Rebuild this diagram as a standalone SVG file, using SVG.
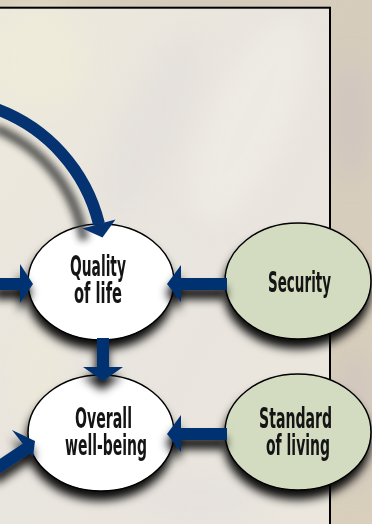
<svg xmlns="http://www.w3.org/2000/svg" width="372" height="524" viewBox="0 0 372 524">
  <defs>
    <linearGradient id="bgGrad" x1="0" y1="0" x2="1" y2="1">
      <stop offset="0" stop-color="#dad1bd"/>
      <stop offset="0.5" stop-color="#d6ccbc"/>
      <stop offset="1" stop-color="#d9cfbc"/>
    </linearGradient>
    <linearGradient id="panelGrad" x1="0" y1="0" x2="1" y2="1">
      <stop offset="0" stop-color="#ede9dc"/>
      <stop offset="0.45" stop-color="#e9e5df"/>
      <stop offset="1" stop-color="#ebe7dd"/>
    </linearGradient>
    <filter id="soft" x="-50%" y="-50%" width="200%" height="200%">
      <feGaussianBlur stdDeviation="12"/>
    </filter>
    <filter id="shadow" x="-30%" y="-30%" width="160%" height="170%">
      <feDropShadow dx="-1" dy="9" stdDeviation="5" flood-color="#000" flood-opacity="0.95"/>
    </filter>
    <filter id="arcBlur" x="-30%" y="-30%" width="160%" height="160%">
      <feGaussianBlur stdDeviation="3.5"/>
    </filter>
    <style>
      .node-white { fill: #ffffff; stroke: #000; stroke-width: 1.5; }
      .node-green { fill: #d3dcc0; stroke: #000; stroke-width: 1.5; }
      .label { font-family: "DejaVu Sans Condensed", "DejaVu Sans", sans-serif; font-stretch: condensed; font-weight: bold; font-size: 29px; fill: #141414; }
      .band { stroke: #053372; fill: none; }
      .head { fill: #053372; }
    </style>
  </defs>

  <!-- background texture -->
  <rect x="0" y="0" width="372" height="524" fill="url(#bgGrad)"/>
  <g filter="url(#soft)" opacity="0.6">
    <ellipse cx="352" cy="120" rx="20" ry="60" fill="#cdc2c2"/>
    <ellipse cx="355" cy="420" rx="18" ry="70" fill="#cbc1bf"/>
    <ellipse cx="200" cy="0" rx="120" ry="8" fill="#cbc2b6"/>
  </g>

  <!-- panel -->
  <rect x="-5" y="7.7" width="335" height="600" fill="url(#panelGrad)"/>
  <g filter="url(#soft)" opacity="0.7">
    <ellipse cx="40" cy="60" rx="50" ry="50" fill="#efecd9"/>
    <ellipse cx="250" cy="120" rx="40" ry="110" fill="#f0ede6" transform="rotate(25 250 120)"/>
    <ellipse cx="150" cy="130" rx="30" ry="100" fill="#e3dfdc" transform="rotate(25 150 130)"/>
    <ellipse cx="40" cy="380" rx="30" ry="60" fill="#ece8d8"/>
    <ellipse cx="200" cy="500" rx="60" ry="25" fill="#e4e0de"/>
  </g>
  <rect x="-5" y="7.7" width="335" height="600" fill="none" stroke="#000" stroke-width="2"/>

  <!-- nodes -->
  <g id="node-quality">
    <ellipse cx="101" cy="282" rx="73" ry="58" class="node-white" filter="url(#shadow)"/>
    <text class="label" transform="translate(70 276) scale(0.6 1)" x="0" y="0" textLength="93.3" lengthAdjust="spacingAndGlyphs">Quality</text>
    <text class="label" transform="translate(74 303) scale(0.6 1)" x="0" y="0" textLength="80" lengthAdjust="spacingAndGlyphs">of life</text>
  </g>
  <g id="node-security">
    <ellipse cx="298" cy="281" rx="73" ry="58" class="node-green" filter="url(#shadow)"/>
    <text class="label" transform="translate(268 292) scale(0.6 1)" x="0" y="0" textLength="105" lengthAdjust="spacingAndGlyphs">Security</text>
  </g>
  <g id="node-overall">
    <ellipse cx="101" cy="433" rx="73" ry="58" class="node-white" filter="url(#shadow)"/>
    <text class="label" transform="translate(75 428) scale(0.6 1)" x="0" y="0" textLength="95" lengthAdjust="spacingAndGlyphs">Overall</text>
    <text class="label" transform="translate(65 455) scale(0.6 1)" x="0" y="0" textLength="136.7" lengthAdjust="spacingAndGlyphs">well-being</text>
  </g>
  <g id="node-standard">
    <ellipse cx="298" cy="432" rx="73" ry="58" class="node-green" filter="url(#shadow)"/>
    <text class="label" transform="translate(259 428) scale(0.6 1)" x="0" y="0" textLength="121.7" lengthAdjust="spacingAndGlyphs">Standard</text>
    <text class="label" transform="translate(266 455) scale(0.6 1)" x="0" y="0" textLength="106.7" lengthAdjust="spacingAndGlyphs">of living</text>
  </g>

  <!-- connectors -->
  <g id="connectors">
    <path d="M -5,128 A 147 147 0 0 1 84,240" fill="none" stroke="#2a2a2a" stroke-width="10" opacity="0.75" filter="url(#arcBlur)"/>
    <path class="band" d="M -5,108.5 A 164 164 0 0 1 99,224" stroke-width="12"/>
    <polygon class="head" points="82.5,228.5 102.5,237.5 115.5,219.5"/>
    <g filter="url(#shadow)">
      <line class="band" x1="-5" y1="284" x2="21" y2="284" stroke-width="12"/>
      <polygon class="head" points="20,264 33,284 20,303"/>
      <line class="band" x1="227" y1="284" x2="180" y2="284" stroke-width="12"/>
      <polygon class="head" points="181,265 167,284 181,302"/>
      <line class="band" x1="103" y1="338" x2="103" y2="368" stroke-width="12"/>
      <polygon class="head" points="83,367 103,381 123,367"/>
      <line class="band" x1="227" y1="434" x2="180" y2="434" stroke-width="12"/>
      <polygon class="head" points="181,415 167,434 181,452"/>
      <line class="band" x1="-6" y1="470" x2="27" y2="448" stroke-width="12"/>
      <polygon class="head" points="12,430 35,441 33,457"/>
    </g>
  </g>
</svg>
